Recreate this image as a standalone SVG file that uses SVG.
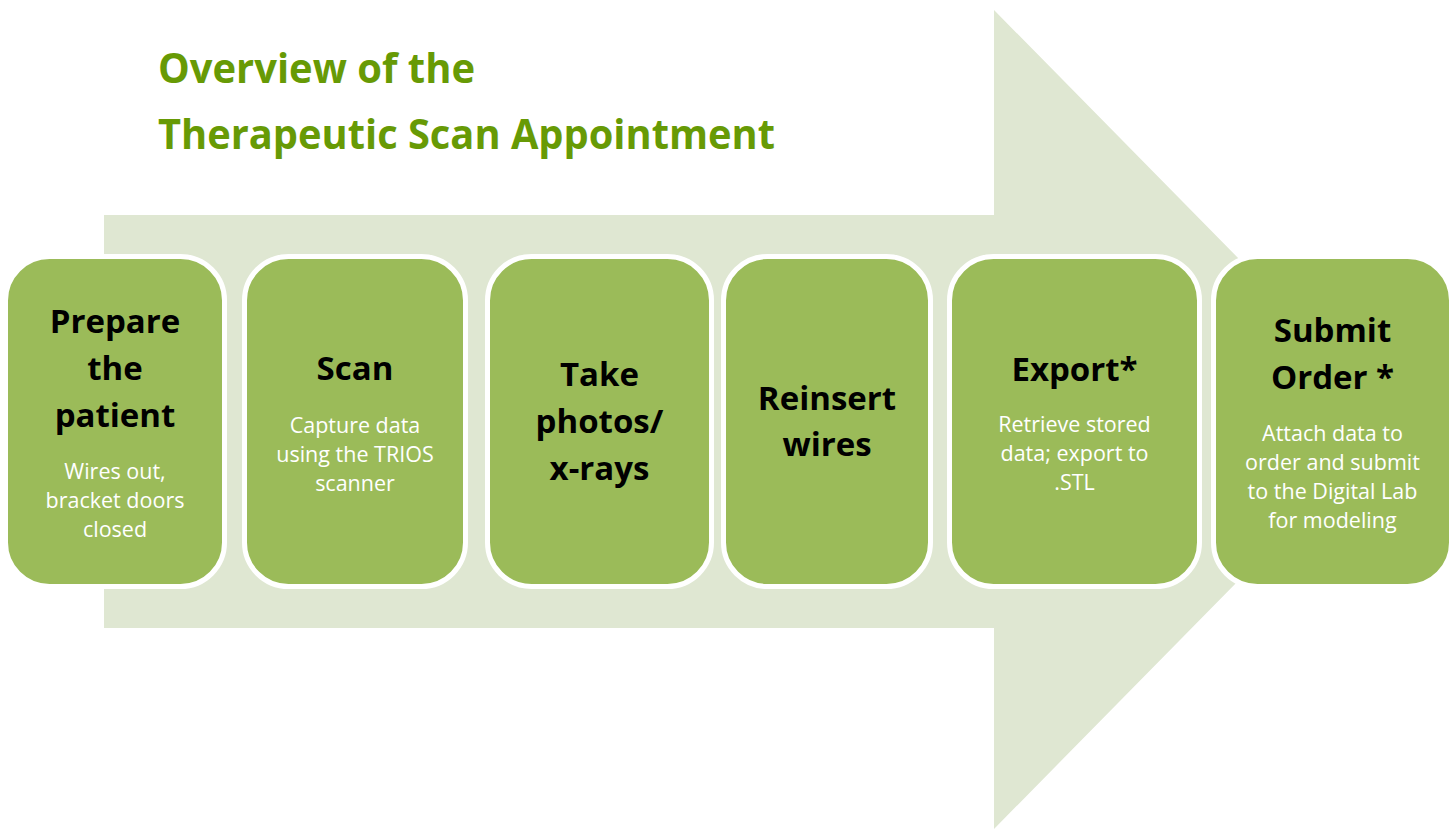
<svg xmlns="http://www.w3.org/2000/svg" width="1455" height="829" viewBox="0 0 1455 829">
  <style>
    .bg { fill: #dfe7d2; }
    .box { fill: #9bbb59; stroke: #ffffff; stroke-width: 5; }
    .head { font-family: "Open Sans", Lato, "Liberation Sans", sans-serif; font-weight: 700; font-size: 33px; fill: #000000; text-anchor: middle; }
    .sub { font-family: "Open Sans", Lato, "Liberation Sans", sans-serif; font-size: 21.5px; fill: #ffffff; text-anchor: middle; }
    .title { font-family: "Open Sans", Lato, "Liberation Sans", sans-serif; font-weight: 700; font-size: 41px; fill: #679a05; }
  </style>

  <rect width="1455" height="829" fill="#ffffff"/>

  <!-- large background arrow -->
  <polygon class="bg" points="104,215 994,215 994,10 1397,419.5 994,829 994,628 104,628"/>

  <!-- heading -->
  <g id="title">
    <text class="title" x="158" y="83" textLength="317" lengthAdjust="spacingAndGlyphs">Overview of the</text>
    <text class="title" x="158" y="149" textLength="617" lengthAdjust="spacingAndGlyphs">Therapeutic Scan Appointment</text>
  </g>

  <g id="step-prepare">
    <rect class="box" x="5.5" y="256.5" width="219" height="330" rx="44"/>
    <text class="head" x="115" y="333">Prepare</text>
    <text class="head" x="115" y="380">the</text>
    <text class="head" x="115" y="427">patient</text>
    <text class="sub" x="115" y="479">Wires out,</text>
    <text class="sub" x="115" y="508">bracket doors</text>
    <text class="sub" x="115" y="537">closed</text>
  </g>

  <g id="step-scan">
    <rect class="box" x="244.5" y="256.5" width="221" height="330" rx="44"/>
    <text class="head" x="355" y="380">Scan</text>
    <text class="sub" x="355" y="433">Capture data</text>
    <text class="sub" x="355" y="462">using the TRIOS</text>
    <text class="sub" x="355" y="491">scanner</text>
  </g>

  <g id="step-photos">
    <rect class="box" x="487.5" y="256.5" width="224" height="330" rx="44"/>
    <text class="head" x="599.5" y="386">Take</text>
    <text class="head" x="599.5" y="433">photos/</text>
    <text class="head" x="599.5" y="480">x-rays</text>
  </g>

  <g id="step-reinsert">
    <rect class="box" x="723.5" y="256.5" width="207" height="330" rx="44"/>
    <text class="head" x="827" y="410">Reinsert</text>
    <text class="head" x="827" y="456">wires</text>
  </g>

  <g id="step-export">
    <rect class="box" x="949.5" y="256.5" width="250" height="330" rx="44"/>
    <text class="head" x="1074.5" y="381">Export*</text>
    <text class="sub" x="1074.5" y="432">Retrieve stored</text>
    <text class="sub" x="1074.5" y="461">data; export to</text>
    <text class="sub" x="1074.5" y="490">.STL</text>
  </g>

  <g id="step-submit">
    <rect class="box" x="1213.5" y="256.5" width="238" height="330" rx="44"/>
    <text class="head" x="1332.5" y="342">Submit</text>
    <text class="head" x="1332.5" y="389">Order *</text>
    <text class="sub" x="1332.5" y="441">Attach data to</text>
    <text class="sub" x="1332.5" y="470">order and submit</text>
    <text class="sub" x="1332.5" y="499">to the Digital Lab</text>
    <text class="sub" x="1332.5" y="528">for modeling</text>
  </g>

  <!-- no connectors: the steps sit on the background arrow -->
  <g id="connectors"/>
</svg>
